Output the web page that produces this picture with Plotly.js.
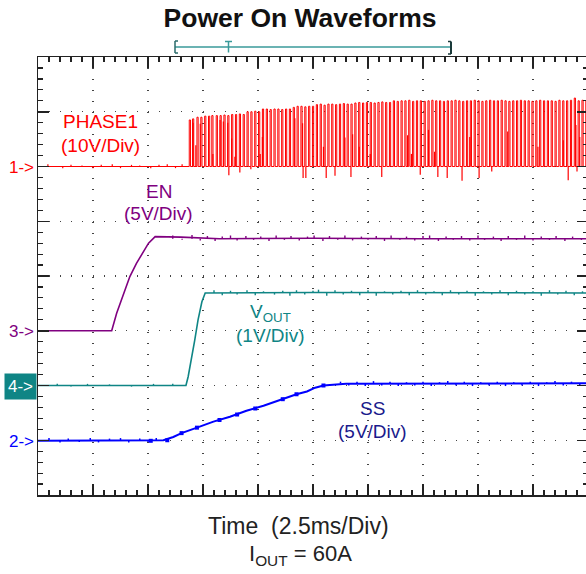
<!DOCTYPE html>
<html><head><meta charset="utf-8">
<script src="https://cdn.plot.ly/plotly-3.0.1.min.js"></script>
<style>html,body{margin:0;padding:0;overflow:hidden;background:#fff}#chart{width:600px;height:574px}</style>
</head><body><div id="chart"></div>
<script>
// ---------------- DATA (time in divisions, amplitude in divisions) ----------------
const PHASE_BASE = 6.0;   // "1->" marker level
// PHASE1 switching pulses: start times and peak heights above baseline
const phaseTimes = [2.75,2.81,2.89,2.96,3.03,3.10,3.16,3.24,3.31,3.38,
  3.45,3.52,3.59,3.66,3.73,3.80,3.87,3.94,4.01,4.08,
  4.15,4.22,4.29,4.36,4.43,4.50,4.57,4.64,4.71,4.78,
  4.85,4.92,4.99,5.06,5.13,5.20,5.27,5.34,5.41,5.48,
  5.55,5.62,5.69,5.76,5.83,5.90,5.97,6.04,6.11,6.18,
  6.25,6.32,6.39,6.46,6.53,6.60,6.67,6.74,6.81,6.88,
  6.95,7.02,7.09,7.16,7.23,7.30,7.37,7.44,7.51,7.58,
  7.65,7.72,7.79,7.86,7.93,8.00,8.07,8.14,8.21,8.28,
  8.35,8.42,8.49,8.56,8.63,8.70,8.77,8.84,8.91,8.98,
  9.05,9.12,9.19,9.26,9.33,9.40,9.47,9.54,9.61,9.68,
  9.75,9.82,9.89,9.96];
const phasePeaks = [0.85,0.87,0.90,0.90,0.92,0.92,0.93,0.93,0.93,0.94,
  0.93,0.95,0.95,0.96,0.95,1.00,1.00,1.01,1.00,1.05,
  1.05,1.04,1.05,1.05,1.04,1.05,1.05,1.08,1.10,1.10,
  1.09,1.10,1.10,1.13,1.14,1.12,1.14,1.14,1.13,1.14,
  1.15,1.14,1.14,1.16,1.17,1.16,1.17,1.17,1.16,1.17,
  1.18,1.17,1.17,1.20,1.19,1.20,1.20,1.21,1.19,1.20,
  1.20,1.19,1.20,1.21,1.20,1.20,1.19,1.20,1.20,1.21,
  1.20,1.19,1.20,1.20,1.21,1.20,1.19,1.20,1.21,1.20,
  1.20,1.21,1.20,1.19,1.20,1.20,1.21,1.20,1.20,1.19,
  1.20,1.21,1.20,1.20,1.20,1.19,1.21,1.20,1.20,1.21,
  1.25,1.20,1.21,1.20];
// partial-height spikes (positive) and undershoots (negative), relative to baseline
const phaseSpikeT = [2.82,2.87,2.95,3.18,3.31,3.37,3.45,3.52,3.58,4.04,4.08,4.67,4.81,5.19,5.58,5.72,5.84,6.04,6.72,6.79,7.10,7.21,7.85,8.54,9.09,9.55,9.69,9.78,9.85,
  3.47,3.67,3.87,4.82,4.87,5.24,5.40,5.69,6.25,6.95,7.27,7.44,7.71,8.02,8.25,9.64,9.80];
const phaseSpikeV = [0.80,0.39,0.78,0.23,0.85,0.82,0.80,0.51,0.18,0.23,0.54,0.88,0.79,0.36,0.53,0.59,0.36,0.23,0.57,0.23,0.67,0.27,0.54,0.64,0.36,0.48,0.67,0.76,0.54,
  -0.16,-0.11,-0.05,-0.21,-0.21,-0.21,-0.17,-0.19,-0.19,-0.15,-0.19,-0.21,-0.26,-0.21,-0.09,-0.25,-0.09];
const phaseNoiseT = [0.18,0.45,0.6,0.8,1.0,1.15,1.35,1.5,1.7,1.85,2.05,2.2,2.35,2.5,2.62];
const phaseNoiseV = [6.04,5.97,6.03,6.02,5.97,6.03,6.04,5.97,6.03,6.02,5.97,6.03,6.04,5.97,6.04];

// EN
const enT = [0,1.34,1.43,1.55,1.67,1.79,1.91,2.01,2.13,2.6,3.3,5.0,7.0,10];
const enV = [3.0,3.0,3.32,3.65,3.99,4.23,4.44,4.60,4.72,4.71,4.68,4.69,4.68,4.68];
const enNoiseT = [2.45,2.62,2.8,2.95,3.08,3.22,3.35,3.5,3.62,3.78,3.92,4.05,4.2,4.33,4.48,4.6,4.75,4.9,5.02,5.18,5.3,5.45,5.58,5.72,5.88,6.0,6.15,6.3,6.42,6.58,6.7,6.85,7.0,7.12,7.28,7.42,7.55,7.7,7.85,8.0,8.12,8.28,8.42,8.55,8.7,8.85,9.0,9.15,9.3,9.42,9.58,9.72,9.88];
const enNoiseV = [4.74,4.66,4.75,4.65,4.73,4.64,4.72,4.74,4.65,4.73,4.66,4.72,4.64,4.74,4.66,4.73,4.65,4.72,4.74,4.64,4.73,4.66,4.74,4.65,4.72,4.66,4.73,4.64,4.74,4.66,4.72,4.65,4.73,4.74,4.64,4.72,4.66,4.73,4.65,4.74,4.66,4.72,4.64,4.73,4.66,4.74,4.65,4.72,4.66,4.73,4.64,4.72,4.66];

// VOUT
const voutT = [0,2.69,2.73,2.79,2.85,2.91,2.98,3.04,5.0,10];
const voutV = [2.0,2.0,2.16,2.47,2.83,3.20,3.53,3.69,3.70,3.69];
const voutNoiseT = [0.35,0.6,0.9,1.3,1.7,2.1,2.45,3.2,3.35,3.5,3.62,3.8,3.95,4.1,4.3,4.45,4.58,4.7,4.85,5.0,5.1,5.25,5.4,5.55,5.7,5.85,6.0,6.15,6.3,6.45,6.6,6.75,6.9,7.05,7.2,7.35,7.5,7.65,7.8,7.95,8.1,8.25,8.4,8.55,8.7,8.85,9.0,9.15,9.3,9.45,9.6,9.75,9.9];
const voutNoiseV = [2.03,1.98,2.03,2.02,1.98,2.03,2.03,3.74,3.65,3.73,3.66,3.74,3.65,3.72,3.66,3.73,3.64,3.74,3.66,3.73,3.75,3.64,3.74,3.66,3.73,3.65,3.74,3.64,3.72,3.66,3.73,3.65,3.74,3.66,3.72,3.65,3.74,3.66,3.73,3.64,3.72,3.66,3.74,3.65,3.73,3.66,3.72,3.64,3.74,3.66,3.73,3.65,3.72];

// SS
const ssT = [0,2.28,2.46,2.61,2.89,3.19,3.49,3.79,4.10,4.40,4.70,4.89,5.04,5.19,5.40,5.60,10];
const ssV = [0.99,1.0,1.06,1.13,1.23,1.34,1.43,1.54,1.63,1.74,1.84,1.89,1.96,2.0,2.02,2.03,2.04];
const ssNoiseT = [0.2,0.4,0.55,0.75,0.95,1.1,1.3,1.5,1.65,1.85,2.0,2.15,5.5,5.65,5.8,5.95,6.1,6.25,6.4,6.55,6.7,6.85,7.0,7.15,7.3,7.45,7.6,7.75,7.9,8.05,8.2,8.35,8.5,8.65,8.8,8.95,9.1,9.25,9.4,9.55,9.7,9.85];
const ssNoiseV = [1.04,0.96,1.03,0.97,1.04,0.96,1.03,1.04,0.96,1.03,0.97,1.04,2.07,2.0,2.07,1.99,2.08,2.0,2.07,1.99,2.06,2.0,2.07,1.99,2.06,2.08,2.0,2.07,1.99,2.06,2.0,2.07,1.99,2.06,2.0,2.07,1.99,2.06,2.08,2.0,2.07,2.0];
const ssDotT = [2.05,2.35,2.61,2.89,3.30,3.62,3.95,4.45,4.70,5.19];
const ssDotV = [0.99,1.00,1.13,1.23,1.37,1.47,1.58,1.75,1.84,2.0];

// ---------------- BUILD ----------------
const FONT = 'Liberation Sans, Arial, Helvetica, sans-serif';
const C_RED = '#ff0000', C_PUR = '#800080', C_TEAL = '#0f8585', C_BLUE = '#0000ff', C_NAVY = '#1a1a8c';
const PW = 0.022; // pulse width (div)

function pulseTrace() {
  const x = [0], y = [PHASE_BASE];
  for (let i = 0; i < Math.min(phaseTimes.length, phasePeaks.length); i++) {
    const t = phaseTimes[i], p = phasePeaks[i];
    x.push(t, t, t + PW, t + PW);
    y.push(PHASE_BASE, PHASE_BASE + p, PHASE_BASE + p, PHASE_BASE);
  }
  x.push(10); y.push(PHASE_BASE);
  return {x, y};
}
function segs(ts, tips, baseFn) {
  const x = [], y = [];
  for (let i = 0; i < Math.min(ts.length, tips.length); i++) {
    x.push(ts[i], ts[i], null); y.push(baseFn(ts[i]), tips[i], null);
  }
  return {x, y};
}
const pp = pulseTrace();
const phSp = segs(phaseSpikeT, phaseSpikeV.map(v => PHASE_BASE + v), () => PHASE_BASE);
const phNs = segs(phaseNoiseT, phaseNoiseV, () => PHASE_BASE);
const enNs = segs(enNoiseT, enNoiseV, t => t < enT[1] ? enV[0] : enV[enV.length - 1]);
const voNs = segs(voutNoiseT, voutNoiseV, t => t < voutT[1] ? voutV[0] : voutV[voutV.length - 1]);
const ssNs = segs(ssNoiseT, ssNoiseV, t => t < ssT[1] ? ssV[0] : ssV[ssV.length - 1]);

const line = (x, y, color, width) => ({x, y, mode: 'lines', type: 'scatter', line: {color, width}, hoverinfo: 'skip', showlegend: false, connectgaps: false});

const traces = [
  line(pp.x, pp.y, C_RED, 1),
  line(phSp.x, phSp.y, C_RED, 1.2),
  line(phNs.x, phNs.y, C_RED, 1.2),
  line(enT, enV, C_PUR, 1.6),
  line(enNs.x, enNs.y, C_PUR, 1.4),
  line(voutT, voutV, C_TEAL, 1.6),
  line(voNs.x, voNs.y, C_TEAL, 1.4),
  line(ssT, ssV, C_BLUE, 2),
  line(ssNs.x, ssNs.y, C_BLUE, 1.5),
  {x: ssDotT, y: ssDotV, mode: 'markers', type: 'scatter', marker: {symbol: 'square', size: 4, color: C_BLUE}, hoverinfo: 'skip', showlegend: false}
];

// pixel helpers (plot area 38..588 x 57..495)
const PX = px => (px - 38) / 550;
const PY = py => (495 - py) / 438;

function ann(text, px, py, color, size, extra) {
  return Object.assign({text, x: PX(px), y: PY(py), xref: 'paper', yref: 'paper', showarrow: false,
    xanchor: 'center', yanchor: 'middle', font: {family: FONT, size, color}}, extra || {});
}
const annotations = [
  ann('PHASE1', 100, 121, C_RED, 19),
  ann('(10V/Div)', 100, 145, C_RED, 19),
  ann('EN', 159, 191, C_PUR, 19),
  ann('(5V/Div)', 158.5, 214, C_PUR, 19),
  ann('V<sub>OUT</sub>', 270, 313, C_TEAL, 19),
  ann('(1V/Div)', 270, 335, C_TEAL, 19),
  ann('SS', 372, 408, C_NAVY, 19),
  ann('(5V/Div)', 372.5, 431, C_NAVY, 19),
  ann('1->', 36, 167, C_RED, 17, {xanchor: 'right'}),
  ann('3->', 36, 331, C_PUR, 17, {xanchor: 'right'}),
  ann('4->', 37, 386, '#ffffff', 17, {xanchor: 'right', bgcolor: C_TEAL, borderpad: 3}),
  ann('2->', 36, 441, C_BLUE, 17, {xanchor: 'right'}),
  ann('Time\u00a0 (2.5ms/Div)', 298, 526, '#222', 23),
  ann('I<sub>OUT</sub> = 60A', 300, 555, '#222', 22)
];

const L = (x0, x1, y0, y1, color, width) => ({type: 'line', xref: 'paper', yref: 'paper',
  x0: PX(x0), x1: PX(x1), y0: PY(y0), y1: PY(y1), line: {color, width}});
const shapes = [
  L(175, 451, 47, 47, '#3a9a9a', 1.5),
  L(175, 175, 41, 53, '#2a6a6a', 1.5),
  L(175, 178, 41, 41, '#2a6a6a', 1.5),
  L(175, 178, 53, 53, '#2a6a6a', 1.5),
  L(225, 232, 41.5, 41.5, '#3a9a9a', 1.5),
  L(228.5, 228.5, 41.5, 52.5, '#3a9a9a', 1.5),
  L(451, 451, 41.5, 54, '#1a3a3a', 2),
  L(448, 451, 41.5, 41.5, '#1a3a3a', 1.5),
  L(448, 451, 54, 54, '#1a3a3a', 1.5)
];

const axBase = {
  showgrid: true, gridcolor: '#444', gridwidth: 1.3, griddash: '1.3px,9.7px',
  ticks: 'inside', ticklen: 11, tickwidth: 1.5, tickcolor: '#222',
  showticklabels: false, showline: true, linecolor: '#222', linewidth: 1.5, mirror: 'ticks',
  zeroline: false, fixedrange: true, tick0: 0, dtick: 1,
  minor: {ticks: 'inside', ticklen: 5, tickwidth: 1.2, tickcolor: '#222', dtick: 0.2, tick0: 0, showgrid: false}
};

const layout = {
  width: 600, height: 574,
  margin: {l: 38, r: 12, t: 57, b: 79, pad: 0},
  paper_bgcolor: '#fff', plot_bgcolor: '#fff',
  title: {text: '<b>Power On Waveforms</b>', font: {family: FONT, size: 26.5, color: '#111'},
    x: 0.5, xref: 'container', xanchor: 'center', y: 1 - 18 / 574, yref: 'container', yanchor: 'middle'},
  xaxis: Object.assign({}, axBase, {range: [0, 10]}),
  yaxis: Object.assign({}, axBase, {range: [0, 8]}),
  annotations, shapes, showlegend: false
};

Plotly.newPlot('chart', traces, layout, {staticPlot: true, displayModeBar: false});
</script></body></html>
